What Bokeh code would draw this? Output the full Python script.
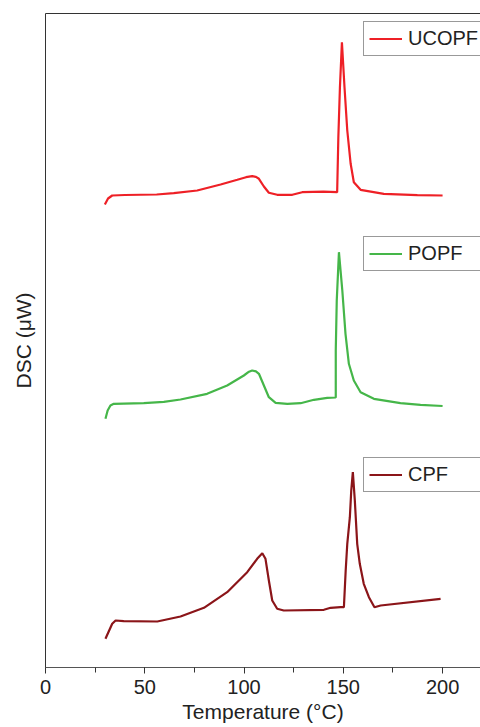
from bokeh.plotting import figure
from bokeh.models import (Range1d, SingleIntervalTicker, FixedTicker, LinearAxis,
                          Legend, LegendItem)
from bokeh.embed import file_html
from bokeh.resources import INLINE

# Temperature (°C) and DSC signal (arbitrary µW units, offset per curve)
ucopf_t = [29.9, 31.5, 33.6, 40, 56, 64.6, 76.4, 88.2, 96.6, 101, 104.1, 106, 107.5,
           110, 112.5, 116.7, 124.3, 129.3, 140, 146.9, 147.5, 148.3, 149.3, 150.6,
           152.0, 153.7, 155.3, 158.7, 170.4, 187.3, 200]
ucopf_y = [463, 469, 472, 472.5, 473, 474.3, 477, 483, 487.7, 490.3, 491.3, 490.6,
           488.7, 481, 474.7, 472.7, 472.7, 475.3, 475.8, 475.3, 530.3, 580.3, 625.3,
           580.3, 537, 503.7, 485.3, 477.7, 473.7, 472.3, 472]

popf_t = [30.2, 31.3, 32.7, 34.4, 49.5, 59.6, 68, 81.4, 91.5, 99.9, 102.5, 104.1,
          106, 107.5, 110, 112.5, 115.9, 121.8, 128.5, 135.2, 141.9, 146.2, 146.2,
          146.7, 147.8, 149.5, 151.1, 152.8, 155.3, 158.7, 165.4, 178.8, 188.9, 200]
popf_y = [248.7, 257, 262, 263.7, 264.3, 265.7, 268, 273.7, 282, 292, 295.8, 297,
          296.2, 293.7, 282, 270.3, 264.7, 263.7, 264.3, 267.7, 269.7, 270, 317,
          367, 415.3, 377, 333.7, 303.7, 287, 275.3, 268.7, 264.3, 262.7, 261.5]

cpf_t = [30.2, 33.6, 35.3, 39.4, 56.3, 68, 79.8, 91.5, 101.6, 106.6, 109.2, 110.8,
         112.5, 114.2, 116.7, 120, 140.2, 143.6, 148.6, 150.3, 151.2, 152.0, 153.3,
         154.0, 154.8, 155.8, 157.0, 158.3, 160.3, 162.9, 165.7, 168.8, 199]
cpf_y = [28.7, 43.7, 47, 46.3, 46, 51, 59.7, 75.3, 95.3, 108.7, 114.3, 108.7,
         87, 67, 58.7, 57, 57.7, 59.7, 60.3, 60.3, 97, 123.7, 150.3,
         177, 195.3, 167, 123.7, 103.7, 83.7, 70.3, 60.3, 62, 68.7]

series_names = ["UCOPF", "POPF", "CPF"]
series_colors = ["#EE2026", "#45B649", "#8B1519"]

FONT = "Liberation Sans"

p = figure(width=480, height=727, output_backend="svg", toolbar_location=None,
           x_range=Range1d(0, 219.1), y_range=Range1d(0, 654),
           min_border_left=45, min_border_right=0, min_border_top=13,
           min_border_bottom=60)
p.background_fill_color = "white"
p.border_fill_color = "white"
p.outline_line_color = None
p.xgrid.visible = False
p.ygrid.visible = False

r1 = p.line(ucopf_t, ucopf_y, line_color=series_colors[0], line_width=2.2)
r2 = p.line(popf_t, popf_y, line_color=series_colors[1], line_width=2.2)
r3 = p.line(cpf_t, cpf_y, line_color=series_colors[2], line_width=2.2)

# x axis
xa = p.xaxis[0]
xa.ticker = SingleIntervalTicker(interval=50, num_minor_ticks=2)
xa.axis_label = "Temperature (°C)"
xa.axis_label_text_font = FONT
xa.axis_label_text_font_size = "21px"
xa.axis_label_text_font_style = "normal"
xa.axis_label_text_color = "#222222"
xa.axis_label_standoff = 3
xa.major_label_text_font = FONT
xa.major_label_text_font_size = "20px"
xa.major_label_text_color = "#222222"
xa.major_label_standoff = 6
xa.axis_line_color = "#555555"
xa.major_tick_line_color = "#333333"
xa.minor_tick_line_color = "#333333"
xa.major_tick_in = 0
xa.major_tick_out = 6
xa.minor_tick_in = 0
xa.minor_tick_out = 5

# y axis
ya = p.yaxis[0]
ya.ticker = FixedTicker(ticks=[])
ya.axis_label = "DSC (μW)"
ya.axis_label_text_font = FONT
ya.axis_label_text_font_size = "21px"
ya.axis_label_text_font_style = "normal"
ya.axis_label_text_color = "#222222"
ya.axis_label_standoff = 11
ya.major_label_text_font_size = "0px"
ya.major_tick_out = 0
ya.major_tick_in = 0
ya.minor_tick_out = 0
ya.minor_tick_in = 0
ya.axis_line_color = "#333333"

# top border line
ta = LinearAxis(ticker=FixedTicker(ticks=[]), major_label_text_font_size="0px",
                major_tick_out=0, major_tick_in=0, minor_tick_out=0, minor_tick_in=0,
                axis_line_color="#333333")
p.add_layout(ta, "above")

def make_legend(label, rend, loc):
    lg = Legend(items=[LegendItem(label=label, renderers=[rend])], location=loc,
                orientation="vertical", padding=5, margin=0, spacing=0,
                glyph_width=33, glyph_height=19, label_height=19,
                label_standoff=6, label_width=95,
                label_text_font=FONT, label_text_font_size="20px",
                label_text_color="#222222",
                border_line_color="#333333", border_line_width=1,
                background_fill_color="white", background_fill_alpha=1.0)
    p.add_layout(lg, "center")

make_legend(series_names[0], r1, (318, 611))
make_legend(series_names[1], r2, (318, 396))
make_legend(series_names[2], r3, (318, 175))

open("out.html", "w").write(file_html(p, INLINE))
